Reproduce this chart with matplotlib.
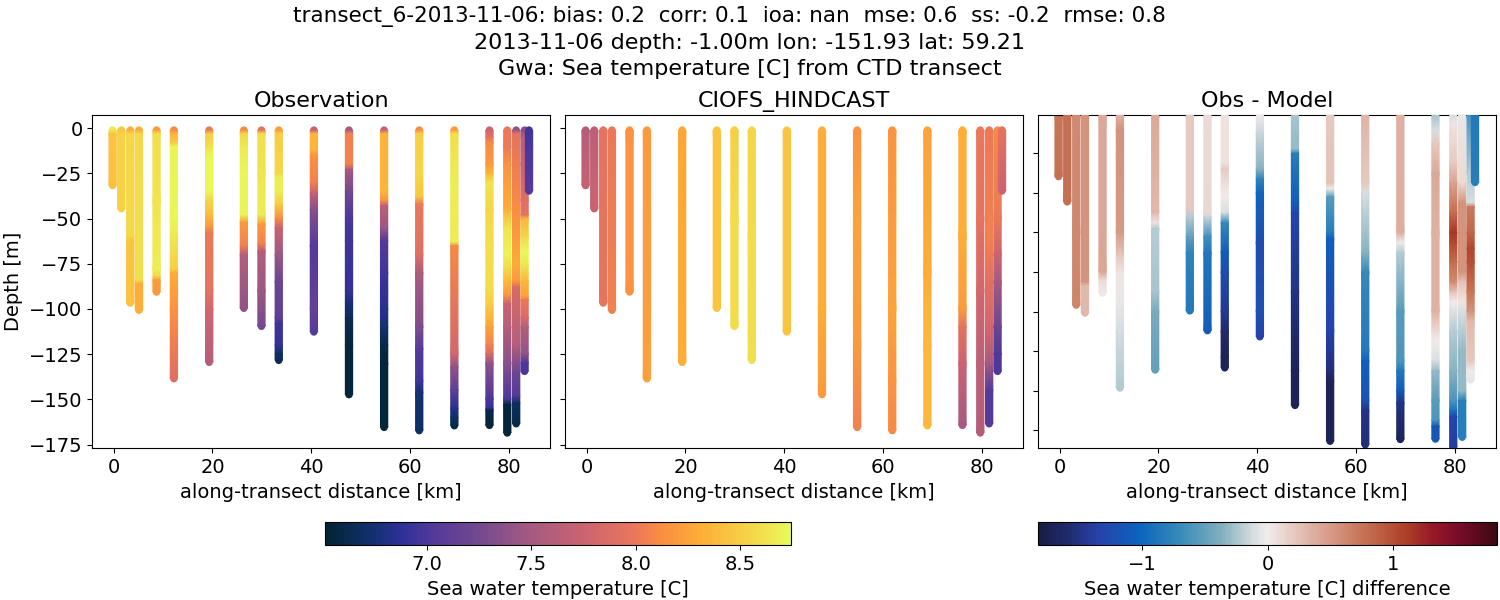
import matplotlib
matplotlib.use("Agg")
import numpy as np
import matplotlib.pyplot as plt
from matplotlib.colors import LinearSegmentedColormap, Normalize
from matplotlib.cm import ScalarMappable

# along-transect distance of each cast [km]
dist = [-0.2, 1.55, 3.37, 5.13, 8.69, 12.2, 19.33, 26.34, 29.9, 33.4,
        40.5, 47.6, 54.7, 61.8, 68.9, 76.0, 79.6, 81.4, 83.1, 84.0]

# observed profiles, depth [m] below surface and temperature [C]
obs_depth = [
    [1, 3, 31.7],
    [1, 3, 44.5],
    [1, 3, 60, 62, 96.7],
    [1, 3, 84, 86, 100.7],
    [1, 3, 40, 78, 82, 84, 90.6],
    [1, 3, 8, 10, 50, 60, 78, 80, 100, 115, 138.6],
    [1, 3, 10, 15, 35, 40, 48, 55, 58, 90, 100, 129.5],
    [1, 3, 10, 25, 48, 52, 65, 70, 99.6],
    [1, 3, 25, 48, 53, 64, 68, 90, 109.6],
    [1, 3, 25, 27, 35, 43, 50, 55, 70, 85, 105, 108, 120, 125, 128.4],
    [1, 3, 12, 15, 30, 36, 45, 65, 100, 112.7],
    [1, 3, 20, 23, 35, 50, 62, 90, 95, 105, 120, 147.4],
    [1, 3, 35, 40, 43, 55, 62, 80, 100, 110, 120, 130, 165.5],
    [1, 3, 25, 38, 42, 70, 80, 110, 122, 140, 146, 167.3],
    [1, 3, 30, 50, 63, 65, 125, 132, 145, 155, 160, 164.6],
    [1, 5, 8, 20, 25, 30, 35, 45, 65, 90, 100, 110, 120, 125, 130, 150, 155, 156, 164.4],
    [1, 10, 20, 45, 55, 70, 78, 85, 92, 97, 110, 130, 150, 153, 168.6],
    [1, 3, 40, 60, 75, 85, 88, 120, 135, 148, 152, 163.5],
    [1, 5, 20, 40, 48, 50, 60, 68, 75, 85, 93, 95, 105, 110, 125, 130, 134.5],
    [1, 10, 34.7],
]
obs_temp = [
    [8.65, 8.45, 8.42],
    [8.45, 8.52, 8.52],
    [8.3, 8.55, 8.56, 8.45, 8.42],
    [8.3, 8.57, 8.6, 8.3, 8.3],
    [8.2, 8.6, 8.62, 8.68, 8.55, 8.2, 8.2],
    [8.1, 8.35, 8.5, 8.7, 8.72, 8.65, 8.5, 8.3, 8.15, 8.05, 7.9],
    [8.0, 8.5, 8.6, 8.72, 8.72, 8.55, 8.4, 8.15, 8.0, 7.95, 7.8, 7.6],
    [8.1, 8.55, 8.65, 8.72, 8.7, 8.2, 8.05, 7.6, 7.4],
    [7.95, 8.6, 8.62, 8.68, 8.2, 8.05, 7.6, 7.45, 7.25],
    [8.2, 8.5, 8.55, 8.68, 8.68, 8.45, 8.1, 7.75, 7.45, 7.2, 7.1, 6.95, 6.9, 6.7, 6.65],
    [7.7, 8.35, 8.35, 8.15, 8.05, 7.7, 7.35, 7.05, 7.15, 7.05],
    [7.5, 8.05, 8.05, 7.5, 7.25, 7.0, 6.95, 6.9, 6.8, 6.65, 6.55, 6.55],
    [7.7, 8.35, 8.35, 8.15, 7.65, 7.45, 7.05, 6.95, 6.85, 6.75, 6.6, 6.55, 6.55],
    [8.1, 8.5, 8.55, 8.45, 8.0, 7.9, 7.55, 7.3, 7.05, 6.95, 6.75, 6.7],
    [8.2, 8.6, 8.68, 8.66, 8.68, 8.1, 7.8, 7.4, 7.1, 6.85, 6.7, 6.6],
    [7.75, 7.95, 8.1, 8.2, 8.35, 8.62, 8.6, 8.55, 8.6, 8.58, 8.45, 8.25, 8.05, 7.85, 7.4, 7.0, 6.9, 6.6, 6.55],
    [8.0, 8.0, 8.15, 8.3, 8.62, 8.7, 8.55, 8.35, 8.2, 7.75, 7.6, 7.35, 7.0, 6.55, 6.55],
    [7.4, 7.95, 8.1, 8.2, 8.3, 8.15, 7.85, 7.6, 7.2, 7.05, 6.7, 6.6],
    [7.35, 7.6, 7.7, 7.9, 7.95, 8.35, 8.55, 8.74, 8.65, 8.35, 8.25, 8.0, 7.85, 7.6, 7.4, 7.0, 7.0],
    [6.95, 7.0, 7.05],
]

# model profiles
model_depth = [
    [1, 31.7],
    [1, 44.5],
    [1, 96.7],
    [1, 100.7],
    [1, 90.6],
    [1, 138.6],
    [1, 129.5],
    [1, 99.6],
    [1, 50, 109.6],
    [1, 60, 128.4],
    [1, 112.7],
    [1, 100, 147.4],
    [1, 50, 120, 165.5],
    [1, 100, 140, 167.3],
    [1, 80, 120, 164.6],
    [1, 60, 100, 110, 130, 164.4],
    [1, 50, 90, 130, 168.6],
    [1, 60, 80, 110, 130, 145, 163.5],
    [1, 50, 70, 85, 110, 125, 134.5],
    [1, 34.7],
]
model_temp = [
    [7.6, 7.7],
    [7.65, 7.75],
    [7.95, 7.95],
    [8.0, 8.05],
    [8.15, 8.15],
    [8.2, 8.22],
    [8.28, 8.3],
    [8.45, 8.45],
    [8.5, 8.58, 8.58],
    [8.55, 8.58, 8.6],
    [8.45, 8.45],
    [8.3, 8.3, 8.2],
    [8.15, 8.25, 8.2, 8.05],
    [8.15, 8.25, 8.15, 8.1],
    [8.25, 8.3, 8.37, 8.37],
    [8.3, 8.3, 8.2, 7.95, 7.75, 7.5],
    [8.0, 7.95, 7.8, 7.65, 7.6],
    [8.0, 8.05, 7.95, 7.8, 7.5, 7.05, 7.05],
    [8.1, 8.0, 7.75, 7.5, 7.2, 7.02, 7.02],
    [7.95, 7.75],
]

# obs - model
diff_depth = [
    [1, 31.7],
    [1, 44.5],
    [1, 60, 96.7],
    [1, 85, 87, 100.7],
    [1, 80, 84, 90.6],
    [1, 8, 60, 72, 80, 95, 110, 138.6],
    [1, 50, 55, 58, 90, 100, 129.5],
    [1, 48, 52, 62, 70, 99.6],
    [1, 50, 52, 62, 70, 109.6],
    [1, 25, 28, 37, 42, 50, 55, 70, 80, 100, 110, 123, 128.4],
    [1, 10, 28, 33, 40, 65, 100, 112.7],
    [1, 18, 20, 45, 50, 90, 130, 147.4],
    [1, 35, 38, 42, 60, 63, 110, 130, 135, 165.5],
    [1, 35, 40, 70, 80, 120, 125, 145, 150, 167.3],
    [1, 60, 65, 70, 100, 125, 130, 140, 146, 164.6],
    [1, 8, 15, 30, 60, 100, 110, 115, 125, 130, 145, 155, 158, 164.4],
    [1, 5, 25, 35, 50, 60, 65, 75, 85, 90, 95, 110, 130, 145, 150, 153, 168.6],
    [1, 35, 45, 80, 85, 95, 100, 120, 140, 145, 163.5],
    [1, 30, 45, 47, 60, 68, 75, 90, 100, 105, 125, 130, 134.5],
    [1, 34.7],
]
diff_temp = [
    [0.75, 0.78],
    [0.78, 0.78],
    [0.6, 0.62, 0.65],
    [0.55, 0.55, 0.3, 0.3],
    [0.4, 0.42, 0.1, 0.02],
    [0.35, 0.55, 0.5, 0.2, 0.05, -0.03, -0.12, -0.22],
    [0.4, 0.3, 0.05, -0.2, -0.25, -0.4, -0.5],
    [0.2, 0.2, -0.2, -0.5, -0.75, -0.85],
    [0.1, 0.12, -0.15, -0.65, -0.85, -1.1],
    [0.07, 0.07, 0.2, 0.05, 0.0, -0.1, -0.7, -1.1, -1.25, -1.45, -1.6, -1.72, -1.72],
    [0.02, -0.15, -0.35, -0.75, -1.0, -1.25, -1.2, -1.35],
    [-0.25, -0.3, -0.8, -1.1, -1.3, -1.5, -1.72, -1.72],
    [0.2, 0.25, 0.0, -0.55, -0.8, -1.05, -1.35, -1.55, -1.72, -1.72],
    [0.33, 0.2, -0.1, -0.35, -0.7, -0.85, -1.05, -1.2, -1.5, -1.55],
    [0.35, 0.38, 0.0, -0.2, -0.55, -0.6, -0.85, -1.1, -1.5, -1.7],
    [-0.25, -0.1, 0.2, 0.4, 0.35, 0.35, 0.1, 0.0, -0.1, -0.3, -0.55, -0.6, -1.15, -1.15],
    [-0.1, 0.05, 0.2, 0.45, 0.8, 1.15, 1.05, 0.8, 0.6, 0.25, 0.0, -0.2, -0.35, -0.6, -0.9, -1.3, -1.4],
    [-0.03, 0.1, 0.55, 0.55, 0.25, 0.05, -0.1, -0.3, -0.3, -0.8, -0.8],
    [-0.6, -0.2, -0.1, 0.7, 0.85, 1.05, 1.0, 0.75, 0.55, 0.3, 0.2, 0.0, -0.05],
    [-0.85, -0.8],
]

# cmocean is not installed so thermal and balance are rebuilt by hand
thermal = LinearSegmentedColormap.from_list("thermal", [
    (0.0, (4/255, 35/255, 51/255)), (0.09, (15/255, 48/255, 105/255)),
    (0.16, (45/255, 48/255, 150/255)), (0.22, (78/255, 55/255, 155/255)),
    (0.34, (120/255, 75/255, 142/255)), (0.44, (165/255, 90/255, 130/255)),
    (0.56, (205/255, 100/255, 112/255)), (0.66, (233/255, 118/255, 92/255)),
    (0.72, (250/255, 140/255, 66/255)), (0.81, (253/255, 175/255, 55/255)),
    (0.92, (245/255, 215/255, 72/255)), (1.0, (232/255, 250/255, 91/255))])
balance = LinearSegmentedColormap.from_list("balance", [
    (0.0, (24/255, 28/255, 67/255)), (0.07, (33/255, 45/255, 115/255)),
    (0.13, (38/255, 66/255, 170/255)), (0.22, (12/255, 100/255, 190/255)),
    (0.3, (50/255, 135/255, 185/255)), (0.4, (130/255, 175/255, 190/255)),
    (0.47, (215/255, 222/255, 225/255)), (0.5, (241/255, 236/255, 235/255)),
    (0.6, (222/255, 175/255, 160/255)), (0.7, (200/255, 120/255, 90/255)),
    (0.8, (175/255, 65/255, 40/255)), (0.86, (150/255, 25/255, 40/255)),
    (0.92, (120/255, 12/255, 40/255)), (1.0, (60/255, 9/255, 18/255))])

temp_norm = Normalize(6.516, 8.741)
diff_norm = Normalize(-1.827, 1.827)

W, H = 1500, 600


def px_axes(fig, left, top, right, bottom):
    return fig.add_axes([left/W, 1 - bottom/H, (right - left)/W, (bottom - top)/H])


def draw_casts(ax, depths, values, cmap, norm):
    # each cast is a gouraud band between the read values, dots give the round ends
    for i, x in enumerate(dist):
        d = -np.array(depths[i], dtype=float)
        v = np.array(values[i], dtype=float)
        ax.scatter([x, x], d[[0, -1]], c=v[[0, -1]], s=29, cmap=cmap, norm=norm, linewidths=0, zorder=2 + i)
        xx = np.column_stack([np.full(len(d), x - 0.74), np.full(len(d), x + 0.74)])
        yy = np.column_stack([d, d])
        cc = np.column_stack([v, v])
        ax.pcolormesh(xx, yy, cc, shading="gouraud", cmap=cmap, norm=norm, zorder=2 + i)


fig = plt.figure(figsize=(15, 6), dpi=100)

ax1 = px_axes(fig, 92.3, 115, 550.3, 448.3)
ax2 = px_axes(fig, 565.3, 115, 1023.3, 448.3)
ax3 = px_axes(fig, 1038.3, 115, 1496.3, 448.3)

draw_casts(ax1, obs_depth, obs_temp, thermal, temp_norm)
draw_casts(ax2, model_depth, model_temp, thermal, temp_norm)
draw_casts(ax3, diff_depth, diff_temp, balance, diff_norm)

for ax, name in zip([ax1, ax2, ax3], ["Observation", "CIOFS_HINDCAST", "Obs - Model"]):
    ax.set_title(name, fontsize=16, pad=6)
    ax.set_xlim(-4.3, 88.3)
    ax.set_xticks([0, 20, 40, 60, 80])
    ax.set_xlabel("along-transect distance [km]", fontsize=14)
    ax.tick_params(labelsize=14)

ax1.set_ylim(-177.1, 7.35)
ax2.set_ylim(-177.1, 7.35)
ax1.set_yticks(np.arange(-175, 1, 25))
ax2.set_yticks(np.arange(-175, 1, 25))
ax2.set_yticklabels([])
ax1.set_ylabel("Depth [m]", fontsize=14)
ax3.set_ylim(-169.1, -0.6)
ax3.set_yticks(np.arange(-160, -19, 20))
ax3.set_yticklabels([])

cax1 = px_axes(fig, 325.3, 522.3, 790.7, 545.3)
cb1 = fig.colorbar(ScalarMappable(norm=temp_norm, cmap=thermal), cax=cax1, orientation="horizontal")
cb1.set_ticks([7.0, 7.5, 8.0, 8.5])
cb1.ax.tick_params(labelsize=14)
cb1.set_label("Sea water temperature [C]", fontsize=14)

cax2 = px_axes(fig, 1038.3, 522.3, 1496.7, 545.3)
cb2 = fig.colorbar(ScalarMappable(norm=diff_norm, cmap=balance), cax=cax2, orientation="horizontal")
cb2.set_ticks([-1, 0, 1])
cb2.ax.tick_params(labelsize=14)
cb2.set_label("Sea water temperature [C] difference", fontsize=14)

# three separate lines, the first one sits left of centre and is a bit narrower
fig.text(729.5/W, 1 - 22/H, "transect_6-2013-11-06: bias: 0.2  corr: 0.1  ioa: nan  mse: 0.6  ss: -0.2  rmse: 0.8",
         fontsize=15.5, ha="center", va="baseline")
fig.text(749.5/W, 1 - 48.7/H, "2013-11-06 depth: -1.00m lon: -151.93 lat: 59.21",
         fontsize=16, ha="center", va="baseline")
fig.text(749.5/W, 1 - 75/H, "Gwa: Sea temperature [C] from CTD transect",
         fontsize=16, ha="center", va="baseline")

fig.savefig("out.png", dpi=100)
